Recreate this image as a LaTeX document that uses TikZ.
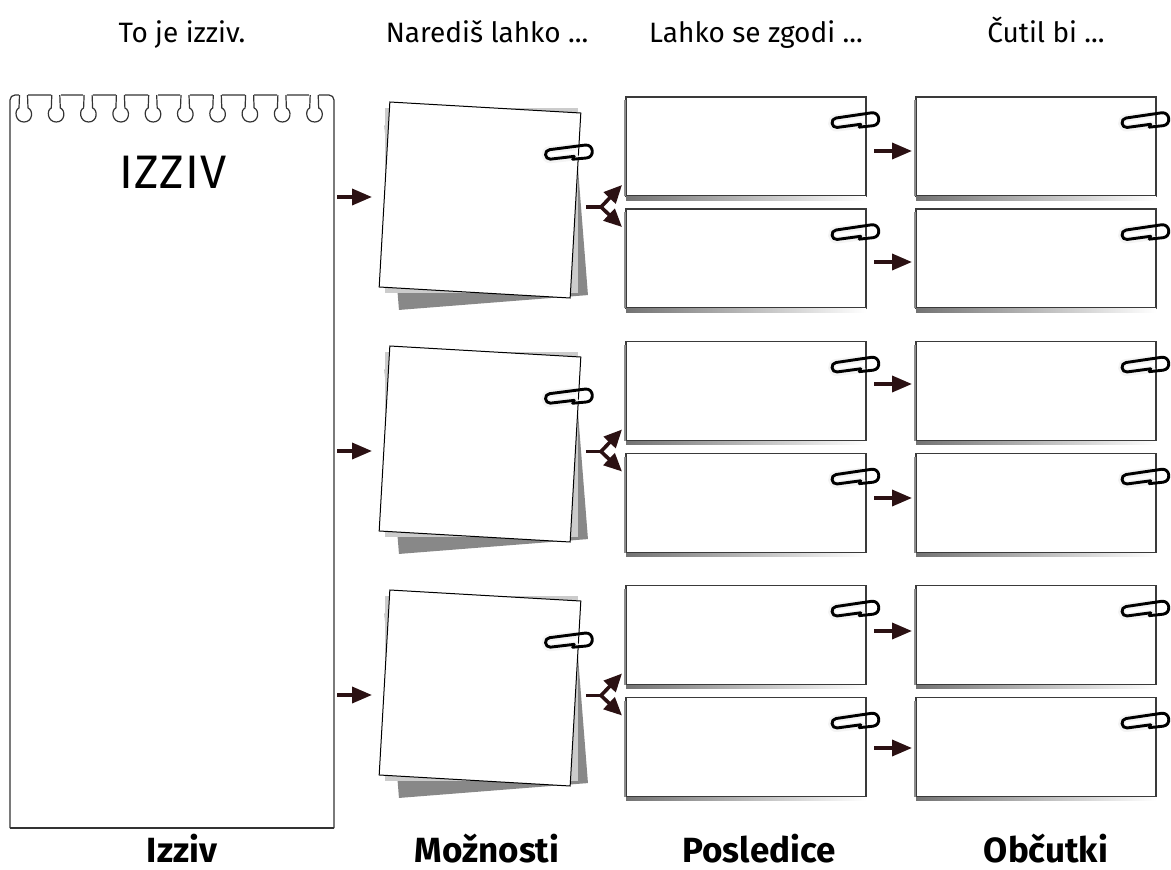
\documentclass[tikz,border=0pt]{standalone}
\usepackage{fontspec}
\setmainfont{Fira Sans}
\usetikzlibrary{arrows.meta,calc}
\definecolor{arrowc}{HTML}{2B1113}
\definecolor{lightsh}{HTML}{CCCCCC}
\definecolor{darksh}{HTML}{888888}
\definecolor{boxedge}{HTML}{3A3A3A}
\definecolor{padedgec}{HTML}{333333}
\begin{document}
\begin{tikzpicture}[x=1pt,y=-1pt,
  pad/.style={minimum width=324pt, minimum height=733pt, inner sep=0pt, outer sep=0pt, fill=white},
  padedge/.style={draw=padedgec, line width=1.2pt, line join=round},
  hdr/.style={font=\fontsize{28}{32}\selectfont, anchor=base, inner sep=0pt},
  ftr/.style={font=\bfseries\fontsize{35}{40}\selectfont, anchor=base, inner sep=0pt},
  front/.style={draw=black, line width=1pt, fill=white, minimum width=191.3pt, minimum height=185.3pt, inner sep=0pt, outer sep=0pt},
  lightsheet/.style={fill=lightsh, minimum width=193pt, minimum height=185pt, inner sep=0pt, outer sep=0pt},
  darksheet/.style={fill=darksh, minimum width=189.6pt, minimum height=185pt, inner sep=0pt, outer sep=0pt},
  card/.style={draw=boxedge, line width=1.3pt, fill=white, minimum width=240pt, minimum height=99pt, inner sep=0pt, outer sep=0pt},
  arr/.style={draw=arrowc, line width=3.6pt, -{Triangle[length=20pt,width=16pt]}},
  brarr/.style={draw=arrowc, line width=3.6pt, -{Triangle[length=18pt,width=16pt]}},
  stub/.style={draw=arrowc, line width=3.6pt},
  pics/paperclip/.style={code={
    \draw[gray!9, line width=7pt, line cap=round] (6,-5.5) -- (-19,-5) .. controls (-25.5,-5) and (-25.5,5) .. (-19,5) -- (6,4.5);
    \draw[black, line width=2.9pt, line cap=round, line join=round]
      (5,3.8) -- (-19,4.5) .. controls (-25,4.5) and (-25,-5) .. (-19,-5)
      -- (17,-6.5) .. controls (25.5,-6.5) and (25.5,6.5) .. (17,6.5) -- (3,6.5);
  }}
]
\useasboundingbox (0,0) rectangle (1171,870);

% headers
\node[hdr] (h1) at (182,42) {To je izziv.};
\node[hdr] (h2) at (487,42) {Narediš lahko ...};
\node[hdr] (h3) at (756,42) {Lahko se zgodi ...};
\node[hdr] (h4) at (1046,42) {Čutil bi ...};

% footers
\node[ftr] (f1) at (182,862) {Izziv};
\node[ftr] (f2) at (487,862) {Možnosti};
\node[ftr] (f3) at (759,862) {Posledice};
\node[ftr] (f4) at (1046,862) {Občutki};

% notepad
\node[pad] (izziv) at (172,461.5) {};
\draw[padedge, rounded corners=5pt] (izziv.south west) -- (izziv.north west) -- (izziv.north east) -- (izziv.south east);
\draw[padedge] (izziv.south east) -- (izziv.south west);
\foreach \i in {0,...,9} {
  \pgfmathsetmacro{\cx}{24+32.3*\i}
  \fill[white] (\cx-5.3,93) rectangle (\cx+4.3,97);
  \draw[padedge] (\cx-4.5,95) -- (\cx-5,108) .. controls (\cx-10,110) and (\cx-9,122) .. (\cx,122)
     .. controls (\cx+9,122) and (\cx+9.5,110) .. (\cx+4,108) -- (\cx+3.5,95);
}
\node (izzivtitle) at (173,172) {\fontsize{47}{50}\selectfont I\kern1pt Z\kern1pt Z\kern1pt I\kern1pt V};

% groups
\foreach \g/\ny/\ba/\bb/\aa/\ab/\iy in {1/200/146.5/258.5/4.5/3.5/-3, 2/444/391/503/-7/-5/7, 3/688/635/747/-4/1/7} {
  \node[darksheet, rotate=4.5] (d\g) at (486.2,\ny+10.3) {};
  \node[lightsheet] (l\g) at (481.5,\ny+0.5) {};
  \node[front, rotate=-3.3] (n\g) at (480,\ny) {};
  \pic[rotate=5] at ($(n\g.center)+(89,-47)$) {paperclip};

  \node[card] (p\g a) at (746,\ba) {};
  \node[card] (p\g b) at (746,\bb) {};
  \node[card] (o\g a) at (1036,\ba) {};
  \node[card] (o\g b) at (1036,\bb) {};
  \foreach \c in {p\g a, p\g b, o\g a, o\g b} {
    \shade[left color=black!55, right color=white] ($(\c.south west)+(0,0.6)$) rectangle ($(\c.south east)+(0,4)$);
    \fill[black!45] ($(\c.north west)+(-1.8,3)$) rectangle ($(\c.south west)+(-0.3,0)$);
    \pic[rotate=6] at ($(\c.north east)+(-10.5,24)$) {paperclip};
  }

  % arrows from notepad
  \draw[arr] ($(izziv.east |- n\g.center)+(3,\iy)$) -- ($(n\g.center)+(-108,\iy)$);
  % split arrows
  \coordinate (j\g) at ($(p\g a.south west)!0.5!(p\g b.north west)+(-25,4.5)$);
  \draw[stub] (n\g.east |- j\g) ++(10.5,0) -- (j\g);
  \draw[brarr] (j\g) -- ($(p\g a.south west)+(-4,-11)$);
  \draw[brarr] (j\g) -- ($(p\g b.north west)+(-4,18)$);
  % arrows to feelings
  \draw[arr] ($(p\g a.east)+(8,\aa)$) -- ($(o\g a.west)+(-4,\aa)$);
  \draw[arr] ($(p\g b.east)+(8,\ab)$) -- ($(o\g b.west)+(-4,\ab)$);
}
\end{tikzpicture}
\end{document}
